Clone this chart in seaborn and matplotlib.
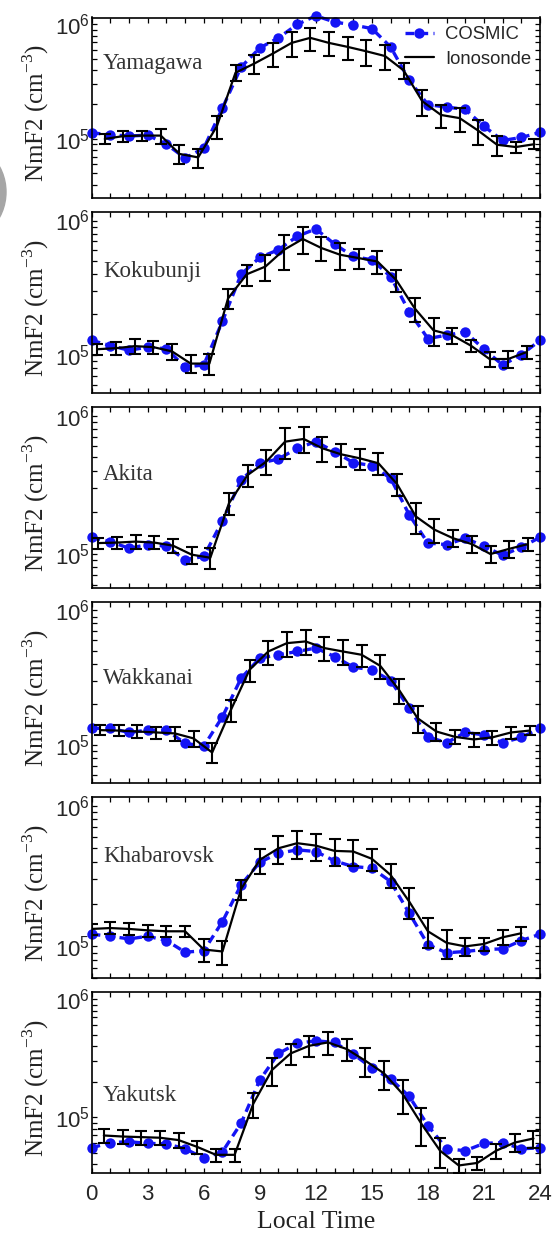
import numpy as np
import matplotlib
matplotlib.use("Agg")
import matplotlib.pyplot as plt
import seaborn as sns
from matplotlib.lines import Line2D
from matplotlib.patches import Circle
from matplotlib.ticker import LogLocator, MultipleLocator, NullFormatter

# Local time axis: COSMIC hourly bins, ionosonde at whole UT hours
cosmic_hours = list(range(25))
iono_hours = list(range(24))

stations = ["Yamagawa", "Kokubunji", "Akita", "Wakkanai", "Khabarovsk", "Yakutsk"]
# local time shift of the ionosonde hours (station longitude)
lt_offset = [0.7, 0.3, 0.35, 0.45, 0.0, 0.65]

# NmF2 values, in units of 1e5 cm^-3
yamagawa_cosmic = [1.13, 1.09, 1.06, 1.08, 0.90, 0.68, 0.83, 1.86, 4.25, 6.24, 7.64, 10.0, 11.9,
                   10.5, 9.9, 9.2, 6.37, 3.25, 1.99, 1.90, 1.81, 1.29, 0.97, 1.03, 1.14]
yamagawa_iono = [1.00, 1.06, 1.07, 1.07, 0.74, 0.69, 1.29, 3.79, 4.55, 5.57, 6.90, 7.64,
                 6.90, 6.37, 5.83, 5.30, 3.97, 2.13, 1.62, 1.52, 1.18, 0.89, 0.85, 0.90]
yamagawa_std = [0.10, 0.11, 0.11, 0.16, 0.14, 0.13, 0.29, 0.61, 0.89, 1.31, 1.72, 1.75,
                1.63, 1.46, 1.45, 1.32, 0.62, 0.55, 0.37, 0.36, 0.29, 0.18, 0.10, 0.09]

kokubunji_cosmic = [1.28, 1.17, 1.08, 1.14, 1.11, 0.81, 0.84, 1.78, 3.98, 5.31, 6.06, 7.63, 8.66,
                    6.68, 5.40, 5.10, 3.82, 2.09, 1.32, 1.40, 1.48, 1.10, 0.84, 1.00, 1.28]
kokubunji_iono = [1.10, 1.12, 1.16, 1.14, 1.06, 0.86, 0.86, 2.63, 3.98, 4.54, 6.06, 7.29,
                  6.24, 5.56, 5.25, 4.95, 3.61, 2.21, 1.52, 1.40, 1.17, 0.93, 0.93, 1.05]
kokubunji_std = [0.11, 0.12, 0.15, 0.13, 0.14, 0.13, 0.15, 0.45, 0.71, 0.97, 1.81, 1.68,
                 1.26, 1.25, 0.91, 0.97, 0.66, 0.46, 0.35, 0.19, 0.12, 0.12, 0.13, 0.12]

akita_cosmic = [1.32, 1.23, 1.10, 1.17, 1.14, 0.91, 0.96, 1.74, 3.44, 4.53, 4.87, 5.81, 6.49,
                5.50, 4.58, 4.36, 3.53, 1.92, 1.20, 1.17, 1.30, 1.14, 0.98, 1.12, 1.32]
akita_iono = [1.20, 1.21, 1.23, 1.21, 1.15, 0.99, 0.94, 2.33, 3.73, 4.66, 6.49, 6.79,
              5.81, 5.26, 4.92, 4.53, 3.20, 1.87, 1.50, 1.30, 1.18, 1.00, 1.09, 1.18]
akita_std = [0.11, 0.12, 0.14, 0.13, 0.14, 0.14, 0.16, 0.41, 0.66, 0.95, 1.65, 1.43,
             1.19, 1.02, 0.87, 0.80, 0.57, 0.47, 0.29, 0.18, 0.16, 0.14, 0.15, 0.12]

wakkanai_cosmic = [1.33, 1.33, 1.24, 1.29, 1.29, 1.03, 0.98, 1.62, 3.14, 4.42, 4.68, 4.95, 5.25,
                   4.54, 3.79, 3.62, 3.01, 1.87, 1.15, 1.04, 1.24, 1.19, 1.04, 1.14, 1.33]
wakkanai_iono = [1.29, 1.28, 1.26, 1.24, 1.22, 1.12, 0.88, 1.82, 3.62, 4.95, 5.71, 5.88,
                 5.25, 4.95, 4.68, 3.87, 2.57, 1.58, 1.26, 1.15, 1.10, 1.14, 1.24, 1.28]
wakkanai_std = [0.11, 0.12, 0.14, 0.13, 0.15, 0.16, 0.15, 0.33, 0.66, 0.99, 1.21, 1.21,
                1.05, 1.05, 0.86, 0.77, 0.54, 0.36, 0.19, 0.14, 0.13, 0.14, 0.13, 0.10]

khabarovsk_cosmic = [1.22, 1.18, 1.13, 1.18, 1.10, 0.91, 0.93, 1.50, 2.74, 3.96, 4.59, 4.85, 4.72,
                     4.05, 3.69, 3.60, 2.89, 1.72, 1.03, 0.90, 0.92, 0.95, 0.96, 1.10, 1.22]
khabarovsk_iono = [1.33, 1.35, 1.33, 1.30, 1.28, 1.28, 0.95, 0.92, 2.56, 4.12, 4.98, 5.41,
                   5.20, 4.77, 4.72, 4.19, 3.22, 2.08, 1.28, 1.06, 1.00, 1.04, 1.16, 1.24]
khabarovsk_std = [0.12, 0.13, 0.13, 0.13, 0.12, 0.12, 0.17, 0.18, 0.42, 0.83, 1.14, 1.24,
                  1.13, 1.06, 0.98, 0.73, 0.61, 0.51, 0.31, 0.24, 0.15, 0.11, 0.14, 0.14]

yakutsk_cosmic = [0.55, 0.61, 0.62, 0.60, 0.595, 0.54, 0.45, 0.51, 0.89, 2.07, 3.47, 4.22, 4.44,
                  4.30, 3.43, 2.61, 2.11, 1.50, 0.85, 0.54, 0.52, 0.60, 0.61, 0.54, 0.55]
yakutsk_iono = [0.70, 0.686, 0.678, 0.67, 0.64, 0.56, 0.48, 0.48, 1.30, 2.51, 3.47, 4.03,
                4.30, 3.78, 3.01, 2.35, 1.57, 0.88, 0.52, 0.39, 0.41, 0.52, 0.61, 0.66]
yakutsk_std = [0.10, 0.098, 0.092, 0.091, 0.091, 0.073, 0.062, 0.062, 0.31, 0.67, 0.72, 0.81,
               0.92, 0.81, 0.84, 0.64, 0.51, 0.31, 0.15, 0.053, 0.053, 0.074, 0.107, 0.107]

cosmic_all = [yamagawa_cosmic, kokubunji_cosmic, akita_cosmic,
              wakkanai_cosmic, khabarovsk_cosmic, yakutsk_cosmic]
iono_all = [yamagawa_iono, kokubunji_iono, akita_iono,
            wakkanai_iono, khabarovsk_iono, yakutsk_iono]
std_all = [yamagawa_std, kokubunji_std, akita_std,
           wakkanai_std, khabarovsk_std, yakutsk_std]

# lower y limit of each panel, upper limit is shared
y_bottom = [3.05e4, 5.2e4, 5.7e4, 5.25e4, 6.0e4, 3.4e4]
y_top = 1.15e6
label_y = [0.746, 0.671, 0.63, 0.578, 0.67, 0.429]

blue = "#1414f5"

sns.set_theme(style="white")
plt.rcParams["font.family"] = ["Liberation Sans", "DejaVu Sans"]
plt.rcParams["mathtext.fontset"] = "custom"
plt.rcParams["mathtext.rm"] = "Liberation Sans"
plt.rcParams["axes.linewidth"] = 1.2
plt.rcParams["axes.edgecolor"] = "black"

W, H = 557, 1233
fig = plt.figure(figsize=(W / 100, H / 100), dpi=100)
fig.patch.set_facecolor("white")

# grey blob at the left edge of the page
fig.patches.append(Circle((-47, H - 192), 53, transform=None, color="#a6a6a6", zorder=0))

ax_left, ax_w, ax_h = 91.7, 448.3, 180.5

for i, name in enumerate(stations):
    top = 17.5 + 194.9 * i
    ax = fig.add_axes([ax_left / W, 1 - (top + ax_h) / H, ax_w / W, ax_h / H])
    ax.set_yscale("log")

    x_iono = np.array(iono_hours) + lt_offset[i]
    cos = np.array(cosmic_all[i]) * 1e5
    ion = np.array(iono_all[i]) * 1e5
    err = np.array(std_all[i]) * 1e5

    # COSMIC: blue dashed line with dots
    sns.lineplot(x=cosmic_hours, y=cos, ax=ax, color=blue, linewidth=2.4,
                 linestyle=(0, (2.6, 1.6)), marker="o", markersize=7.5,
                 markeredgewidth=0, clip_on=False, zorder=2, legend=False)

    # Ionosonde: black line with std error bars
    ax.errorbar(x_iono, ion, yerr=err, fmt="none", ecolor="black",
                elinewidth=1.5, capsize=4, capthick=1.5, zorder=3)
    sns.lineplot(x=x_iono, y=ion, ax=ax, color="black", linewidth=1.6,
                 zorder=4, legend=False)

    ax.set_xlim(0, 24)
    ax.set_ylim(y_bottom[i], y_top)
    ax.xaxis.set_major_locator(MultipleLocator(3))
    ax.xaxis.set_minor_locator(MultipleLocator(1))
    ax.yaxis.set_major_locator(LogLocator(base=10, numticks=10))
    ax.yaxis.set_minor_locator(LogLocator(base=10, subs=np.arange(2, 10) * 1.0, numticks=20))
    ax.yaxis.set_minor_formatter(NullFormatter())
    ax.tick_params(which="both", direction="in", top=True, right=True,
                   bottom=True, left=True, length=3.6, width=0.9, color="black")
    ax.tick_params(axis="y", which="major", labelsize=16, pad=1)
    ax.tick_params(axis="x", which="major", labelsize=16, pad=8)
    if i < len(stations) - 1:
        ax.tick_params(axis="x", labelbottom=False)
    for s in ax.spines.values():
        s.set_color("black")

    ax.set_ylabel("NmF2 (cm$^{\\mathregular{-3}}$)", family="Liberation Serif",
                  fontsize=18, color="#222222")
    ax.yaxis.set_label_coords(-0.091, 0.47)

    ax.text(0.025, label_y[i], name, transform=ax.transAxes, family="Liberation Serif",
            fontsize=16.5, color="#333333", va="center", ha="left")

    if i == 0:
        handles = [
            Line2D([], [], color=blue, linewidth=2.4, linestyle=(0, (2.6, 1.6)),
                   marker="o", markersize=7.5, markeredgewidth=0),
            Line2D([], [], color="black", linewidth=1.6),
        ]
        ax.legend(handles, ["COSMIC", "Ionosonde"], loc="upper left",
                  bbox_to_anchor=(0.69, 0.972), frameon=False, fontsize=13.3,
                  handlelength=1.6, handletextpad=0.6, labelspacing=0.4,
                  borderaxespad=0, borderpad=0.2)

    if i == len(stations) - 1:
        ax.set_xlabel("Local Time", family="Liberation Serif", fontsize=18.5,
                      color="#222222")
        ax.xaxis.set_label_coords(0.5, -0.215)

fig.savefig("out.png", dpi=100, facecolor="white")
